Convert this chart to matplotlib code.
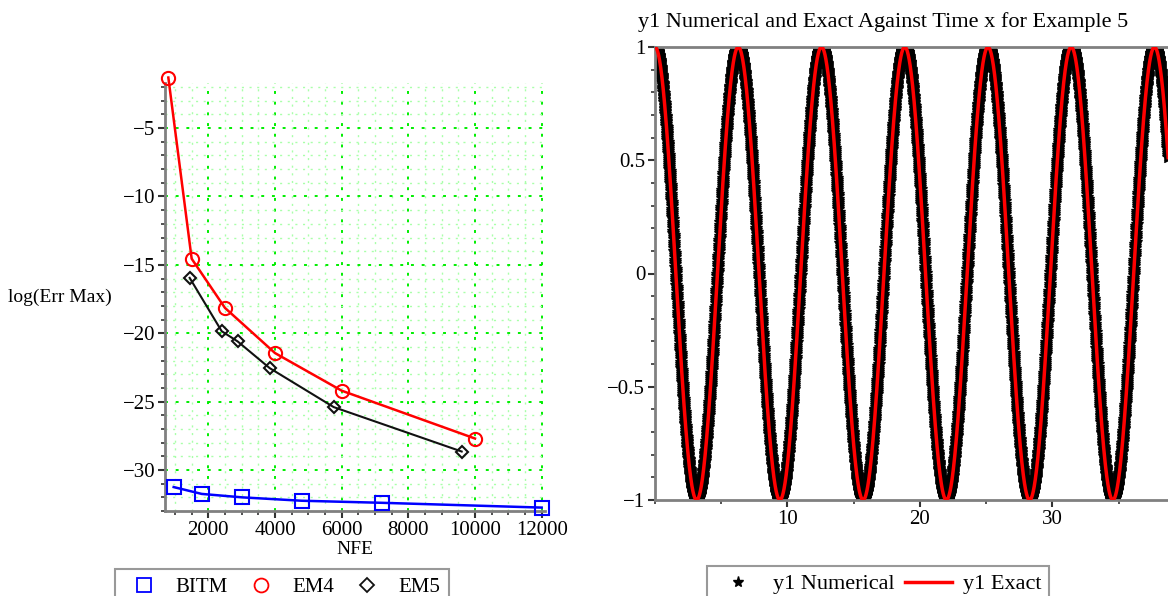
import numpy as np
import matplotlib
matplotlib.use('Agg')
import matplotlib.pyplot as plt
from matplotlib.ticker import MultipleLocator
from matplotlib.lines import Line2D

plt.rcParams['font.family'] = ['Liberation Serif', 'DejaVu Serif']

# left panel: max error against number of function evaluations
nfe_bitm = [960, 1800, 3000, 4800, 7200, 12000]
err_bitm = [-31.25, -31.75, -32.0, -32.25, -32.4, -32.75]
nfe_em4 = [800, 1500, 2500, 4000, 6000, 10000]
err_em4 = [-1.3, -14.55, -18.15, -21.45, -24.2, -27.7]
nfe_em5 = [1440, 2400, 2880, 3840, 5760, 9600]
err_em5 = [-15.95, -19.85, -20.6, -22.55, -25.4, -28.65]

# right panel: y1 over time x, exact solution is cos(x)
t_exact = np.linspace(0, 40, 3000)
y1_exact = np.cos(t_exact)
t_num = np.arange(0, 40, 0.01)
y1_num = np.cos(t_num)

grey = '#808080'
fs = 15

fig = plt.figure(figsize=(11.68, 5.96), dpi=100)

# ---------------- left panel
ax1 = fig.add_axes([165/1168, 1-511/596, 380/1168, 428/596])
ax1.plot(nfe_bitm, err_bitm, color='#0000ff', lw=1.8, marker='s', ms=9.5,
         mfc='none', mec='#0000ff', mew=1.5, clip_on=False, zorder=3)
ax1.plot(nfe_em4, err_em4, color='#ff0000', lw=1.8, marker='o', ms=9.5,
         mfc='none', mec='#ff0000', mew=1.5, clip_on=False, zorder=3)
ax1.plot(nfe_em5, err_em5, color='#111111', lw=1.5, marker='D', ms=6.5,
         mfc='none', mec='#111111', mew=1.5, clip_on=False, zorder=3)
ax1.set_xlim(700, 12100)
ax1.set_ylim(-33, -1.7)
ax1.xaxis.set_major_locator(MultipleLocator(2000))
ax1.xaxis.set_minor_locator(MultipleLocator(500))
ax1.yaxis.set_major_locator(MultipleLocator(5))
ax1.yaxis.set_minor_locator(MultipleLocator(1))
ax1.grid(which='major', color='#00ee00', ls=(0, (1.5, 4)), lw=1.4)
ax1.grid(which='minor', color='#aaffaa', ls=(0, (1.5, 4)), lw=1.0)
ax1.set_axisbelow(True)
for s in ['top', 'right']:
    ax1.spines[s].set_visible(False)
for s in ['left', 'bottom']:
    ax1.spines[s].set_color(grey)
    ax1.spines[s].set_linewidth(2)
ax1.tick_params(which='major', direction='out', length=5, width=1.5, color='#333333',
                labelsize=fs, pad=2)
ax1.tick_params(which='minor', direction='out', length=3, width=1.2, color='#333333')
ax1.set_xlabel('NFE', fontsize=14, labelpad=1)
fig.text(8/1168, 1-297/596, 'log(Err Max)', fontsize=14, va='center', ha='left')

h1 = [Line2D([], [], ls='none', marker='s', ms=10, mfc='none', mec='#0000ff', mew=1.3),
      Line2D([], [], ls='none', marker='o', ms=10, mfc='none', mec='#ff0000', mew=1.3),
      Line2D([], [], ls='none', marker='D', ms=7, mfc='none', mec='#111111', mew=1.3)]
leg1 = fig.legend(h1, ['BITM', 'EM4', 'EM5'], loc='upper left', ncol=3,
                  bbox_to_anchor=(115/1168, 1-569/596), fontsize=fs,
                  fancybox=False, edgecolor=grey, borderpad=0.4,
                  handlelength=2.0, handletextpad=0.5, columnspacing=0.6,
                  borderaxespad=0)
leg1.get_frame().set_linewidth(1.5)

# ---------------- right panel
ax2 = fig.add_axes([655/1168, 1-500/596, 513/1168, 453/596])
ax2.plot(t_num, y1_num, ls='none', marker='*', ms=9.5, color='black', zorder=2)
ax2.plot(t_exact, y1_exact, color='#ff0000', lw=2.5, zorder=3)
ax2.set_xlim(0, 38.72)
ax2.set_ylim(-1, 1)
ax2.xaxis.set_minor_locator(MultipleLocator(5))
ax2.yaxis.set_minor_locator(MultipleLocator(0.1))
ax2.set_xticks([10, 20, 30])
ax2.spines['right'].set_visible(False)
for s in ['left', 'bottom', 'top']:
    ax2.spines[s].set_color(grey)
    ax2.spines[s].set_linewidth(2)
ax2.tick_params(which='major', direction='out', length=5, width=1.5, color='#333333',
                labelsize=fs, pad=2)
ax2.tick_params(which='minor', direction='out', length=3, width=1.2, color='#333333')
ax2.set_yticks([-1, -0.5, 0, 0.5, 1])
ax2.set_yticklabels(['\u22121', '\u22120.5', '0', '0.5', '1'])
fig.text(883/1168, 1-22/596, 'y1 Numerical and Exact Against Time x for Example 5',
         fontsize=16, ha='center', va='center')

h2 = [Line2D([], [], ls='none', marker='*', ms=8, color='black'),
      Line2D([], [], color='#ff0000', lw=2.5)]
leg2 = fig.legend(h2, ['y1 Numerical', 'y1 Exact'], loc='upper left', ncol=2,
                  bbox_to_anchor=(707/1168, 1-566/596), fontsize=16,
                  fancybox=False, edgecolor=grey, borderpad=0.35,
                  handlelength=2.1, handletextpad=0.5, columnspacing=0.5,
                  borderaxespad=0)
leg2.get_frame().set_linewidth(1.5)

fig.savefig('out.png', dpi=100)
